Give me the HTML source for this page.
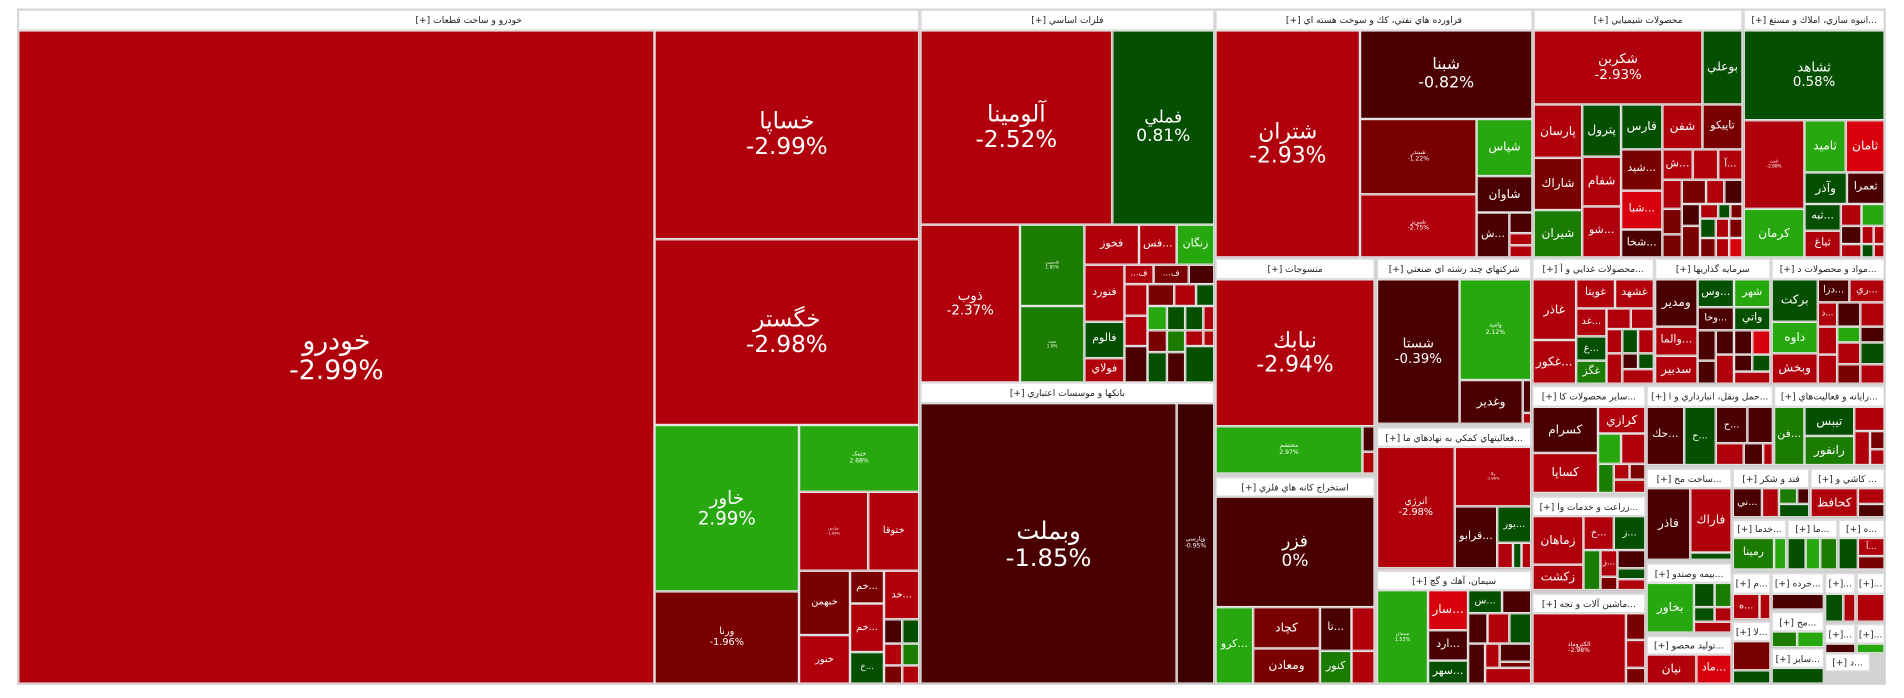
<!DOCTYPE html>
<html><head><meta charset="utf-8">
<style>
html,body{margin:0;padding:0;background:#fff;width:1904px;height:698px;overflow:hidden}
#stage{position:absolute;left:0;top:0;width:1568px;height:575px;transform:scale(1.21429);transform-origin:0 0;}
#frame{position:absolute;left:14px;top:7px;width:1539px;height:557px;background:#d2d2d2}
.t{position:absolute;box-sizing:border-box;border:0.6px solid #e4e4e4;display:flex;flex-direction:column;align-items:center;justify-content:center;color:#fff;font-family:"DejaVu Sans","Liberation Sans",sans-serif;line-height:1.1;overflow:hidden;text-align:center;white-space:nowrap}
.h{position:absolute;box-sizing:border-box;background:#fff;border:0.6px solid #dcdcdc;color:#222;font-family:"DejaVu Sans","Liberation Sans",sans-serif;font-size:7.5px;display:flex;align-items:center;justify-content:center;overflow:hidden;white-space:nowrap;direction:rtl}
</style></head>
<body>
<div id="stage">
<div id="frame"></div>
</div>
<script>
const R='#b0000b',DR='#7a0000',M='#4a0000',M2='#3c0000',BR='#d9000d',DG='#054f00',G='#1a7c00',BG='#26a80e';
const headers=[
[15,8,757,25,'خودرو و ساخت قطعات [+]'],
[758,8,1000,25,'فلزات اساسي [+]'],
[758,315,1000,332,'بانكها و موسسات اعتباري [+]'],
[1001,8,1262,25,'فراورده هاي نفتي، كك و سوخت هسته اي [+]'],
[1263,8,1435,25,'محصولات شيميايي [+]'],
[1436,8,1552,25,'...انبوه سازي، املاك و مستغ [+]'],
[1001,213,1132,230,'منسوجات [+]'],
[1001,393,1132,409,'استخراج كانه هاي فلزي [+]'],
[1134,213,1261,230,'شركتهاي چند رشته اي صنعتي [+]'],
[1134,352,1261,368,'...فعاليتهاي كمكي به نهادهاي ما [+]'],
[1134,470,1261,486,'سيمان، آهك و گچ [+]'],
[1262,213,1362,230,'...محصولات غذايي و آ [+]'],
[1363,213,1458,230,'سرمايه گذاريها [+]'],
[1459,213,1552,230,'...مواد و محصولات د [+]'],
[1262,318,1355,335,'...ساير محصولات كا [+]'],
[1356,318,1460,335,'...حمل ونقل، انبارداري و ا [+]'],
[1461,318,1552,335,'...رايانه و فعاليت‌هاي [+]'],
[1262,409,1355,425,'...زراعت و خدمات وا [+]'],
[1262,489,1355,505,'...ماشين آلات و تجه [+]'],
[1356,386,1426,402,'...ساخت مح [+]'],
[1427,386,1490,402,'قند و شكر [+]'],
[1491,386,1552,402,'... كاشي و [+]'],
[1356,464,1426,480,'...بيمه وصندو [+]'],
[1356,524,1426,539,'...توليد محصو [+]'],
[1427,428,1471,443,'...خدما [+]'],
[1472,428,1513,443,'...ما [+]'],
[1514,428,1552,443,'...ه [+]'],
[1427,472,1458,489,'...م [+]'],
[1459,472,1502,489,'...خرده [+]'],
[1503,472,1528,489,'...[+]'],
[1529,472,1552,489,'...[+]'],
[1427,512,1458,528,'...لا [+]'],
[1459,504,1502,520,'...مح [+]'],
[1459,534,1502,550,'...ساير [+]'],
[1503,514,1528,530,'...[+]'],
[1529,514,1552,530,'...[+]'],
[1503,538,1540,553,'...د [+]']
];
const tiles=[
[15,25,539,563,R,'خودرو','-2.99%',22],
[539,25,757,197,R,'خساپا','-2.99%',19],
[539,197,757,350,R,'خگستر','-2.98%',19],
[539,350,658,487,BG,'خاور','2.99%',15],
[658,350,757,405,BG,'ختمک','2.68%',5],
[658,405,715,470,R,'خپارس','-1.99%',3],
[715,405,757,470,R,'ختوقا','',8],
[539,487,658,563,DR,'ورنا','-1.96%',8],
[658,470,700,523,DR,'خبهمن','',8],
[658,523,700,563,R,'خنور','',8],
[700,470,728,497,DR,'خم...','',8],
[728,470,757,510,R,'خد...','',8],
[700,497,728,537,R,'خم...','',8],
[700,537,728,563,DG,'خ...','',7],
[728,510,743,530,M],[743,510,757,530,DG],[728,530,743,548,R],[743,530,757,548,G],[728,548,743,563,DR],[743,548,757,563,R],
[758,25,916,185,R,'آلومينا','-2.52%',19],
[916,25,1000,185,DG,'فملي','0.81%',14],
[758,185,840,315,R,'ذوب','-2.37%',11],
[840,185,893,252,G,'فاسمين','1.85%',3.5],
[840,252,893,315,G,'سپيد','1.6%',3.5],
[893,185,938,218,R,'فخوز','',9],
[938,185,969,218,R,'فس...','',9],
[969,185,1000,218,BG,'زنگان','',9],
[893,218,926,265,R,'فنورد','',9],
[893,265,926,295,DG,'فالوم','',9],
[893,295,926,315,R,'فولاي','',9],
[926,218,950,234,R,'...ف','',7],[950,218,979,234,DR,'...ف','',7],[979,218,1000,234,M],
[926,234,945,260,R],[945,234,967,252,DR],[967,234,985,252,R],[985,234,1000,252,DG],
[926,260,945,285,R],[945,252,961,272,BG],[961,252,976,272,DG],[976,252,991,272,DG],[991,252,1000,272,R],
[926,285,945,315,M],[945,272,961,290,DR],[961,272,976,290,G],[976,272,991,285,R],[991,272,1000,285,R],
[945,290,961,315,DG],[961,290,976,315,M],[976,285,1000,315,DG],
[758,332,969,563,M,'وبملت','-1.85%',20],
[969,332,1000,563,M2,'وپارسي','-0.95%',5],
[1001,25,1120,212,R,'شتران','-2.93%',18],
[1120,25,1262,98,M,'شبنا','-0.82%',13],
[1120,98,1216,160,DR,'شبندر','-1.22%',5],
[1120,160,1216,212,R,'شبريز','-2.75%',5],
[1216,98,1262,145,BG,'شپاس','',10],
[1216,145,1262,175,M,'شاوان','',10],
[1216,175,1243,212,M,'ش...','',9],
[1243,175,1262,192,M],[1243,192,1262,202,R],[1243,202,1262,212,R],
[1263,25,1402,86,R,'شكربن','-2.93%',11],
[1402,25,1435,86,DG,'بوعلي','',10],
[1263,86,1303,130,R,'پارسان','',10],
[1303,86,1335,129,DG,'پترول','',10],
[1335,86,1369,123,DG,'فارس','',10],
[1369,86,1402,123,R,'شفن','',10],
[1402,86,1435,123,DR,'تاپيكو','',9],
[1263,130,1303,173,DR,'شاراك','',10],
[1263,173,1303,212,G,'شيران','',10],
[1303,129,1335,170,R,'شفام','',10],
[1303,170,1335,212,R,'شو...','',9],
[1335,123,1369,157,DR,'شيد...','',9],
[1335,157,1369,189,BR,'شبا...','',9],
[1335,189,1369,212,M,'شخا...','',9],
[1369,123,1394,148,R,'ش...','',9],[1394,123,1415,148,R],[1415,123,1435,148,R,'آ...','',8],
[1369,148,1385,172,R],[1385,148,1405,168,DR],[1405,148,1420,168,R],[1420,148,1435,168,M],
[1369,172,1385,193,DR],[1385,168,1400,186,M],[1400,168,1415,180,R],[1415,168,1425,180,DG],[1425,168,1435,180,DR],
[1369,193,1385,212,DR],[1385,186,1400,212,DR],[1400,180,1413,196,DG],[1413,180,1424,196,R],[1424,180,1435,196,DR],[1400,196,1413,212,DR],[1413,196,1424,212,R],[1424,196,1435,212,BR],
[1436,25,1552,99,DG,'ثشاهد','0.58%',11],
[1436,99,1486,172,R,'ثامت','-2.88%',3.5],
[1436,172,1486,212,BG,'كرمان','',10],
[1486,99,1520,142,BG,'ثاميد','',10],
[1520,99,1552,142,BR,'ثامان','',10],
[1486,142,1521,168,DG,'وآذر','',10],
[1521,142,1552,168,M,'ثعمرا','',9],
[1486,168,1516,190,DG,'ثبه...','',9],
[1486,190,1516,212,R,'ثباغ','',9],
[1516,168,1533,186,R],[1533,168,1552,186,BG],[1516,186,1533,201,M],[1533,186,1543,201,R],[1543,186,1552,201,R],[1516,201,1533,212,R],[1533,201,1543,212,DG],[1543,201,1552,212,R],
[1001,230,1132,351,R,'نبابك','-2.94%',18],
[1001,351,1122,390,BG,'محتشم','2.97%',5],[1122,351,1132,372,M],[1122,372,1132,390,R],
[1001,409,1132,500,M,'فزر','0%',14],
[1001,500,1032,563,BG,'كرو...','',9],[1032,500,1087,534,DR,'كچاد','',10],[1032,534,1087,563,DR,'ومعادن','',10],[1087,500,1113,536,M,'تا...','',9],[1113,500,1132,536,R],[1087,536,1113,563,G,'كنور','',9],[1113,536,1132,563,R],
[1134,230,1202,349,M,'شستا','-0.39%',11],[1202,230,1261,313,BG,'واميد','2.12%',5],[1202,313,1254,349,M,'وغدير','',10],[1254,313,1261,340,M],[1254,340,1261,349,R],
[1134,368,1198,468,R,'انرژي','-2.98%',8],[1198,368,1261,417,R,'وكا','-1.98%',3],[1198,417,1233,468,M,'قرابو...','',9],[1233,417,1261,447,DG,'بور...','',8],[1233,447,1246,468,R],[1246,447,1253,468,DG],[1253,447,1261,468,R],
[1134,486,1176,563,BG,'سيمان','1.53%',4],[1176,486,1209,519,BR,'سار...','',10],[1176,519,1209,544,M,'ارد...','',9],[1176,544,1209,563,DG,'سهر...','',9],[1209,486,1237,505,DG,'س...','',8],[1237,486,1261,505,M],[1209,505,1225,530,M],[1225,505,1243,530,R],[1243,505,1261,530,DG],[1209,530,1223,563,M],[1223,530,1235,550,R],[1235,530,1261,545,M],[1223,550,1261,563,R],[1235,545,1261,550,DR],
[1262,230,1298,280,R,'غاذر','',10],[1262,280,1298,316,R,'غكور...','',10],[1298,230,1330,254,R,'غويتا','',9],[1330,230,1362,254,R,'غشهد','',9],[1298,254,1323,277,R,'غد...','',8],[1323,254,1343,271,R],[1343,254,1362,271,R],[1298,277,1323,297,DG,'غ...','',8],[1298,297,1323,316,G,'غگز','',9],[1323,271,1336,291,R],[1336,271,1349,291,DG],[1349,271,1362,291,R],[1323,291,1336,316,R],[1336,291,1349,304,M],[1349,291,1362,304,DG],[1336,304,1362,316,R],
[1363,230,1398,269,M,'ومدير','',10],[1363,269,1398,293,R,'والما...','',9],[1363,293,1398,316,R,'سدبير','',10],[1398,230,1428,253,DG,'وس...','',9],[1428,230,1458,253,BG,'شهر','',9],[1398,253,1428,272,M,'وخا...','',8],[1428,253,1458,272,DG,'واتي','',9],[1398,272,1413,297,M],[1413,272,1428,292,M],[1428,272,1443,292,M],[1443,272,1458,292,BR],[1398,297,1413,316,M],[1413,292,1428,316,R],[1428,292,1443,306,M],[1443,292,1458,306,DG],[1428,306,1458,316,R],
[1459,230,1497,265,DG,'بركت','',10],[1459,265,1497,291,BG,'داوه','',10],[1459,291,1497,316,R,'وبخش','',10],[1497,230,1523,249,M,'دزا...','',8],[1523,230,1552,249,R,'ري...','',8],[1497,249,1513,269,R,'د...','',7],[1513,249,1532,269,M],[1532,249,1552,269,R],[1497,269,1513,292,R],[1513,269,1532,282,BG],[1532,269,1552,282,M],[1513,282,1532,300,R],[1532,282,1552,300,DG],[1497,292,1513,316,R],[1513,300,1532,316,DR],[1532,300,1552,316,R],
[1262,335,1316,373,M,'كسرام','',10],[1262,373,1316,406,R,'كساپا','',10],[1316,335,1355,357,R,'كرازي','',10],[1316,357,1335,382,BG],[1335,357,1355,382,R],[1316,382,1329,406,G],[1329,382,1342,395,R],[1342,382,1355,395,DR],[1329,395,1355,406,R],
[1356,335,1387,383,M,'حك...','',9],[1387,335,1413,383,DG,'ح...','',8],[1413,335,1439,365,M,'ح...','',8],[1439,335,1460,365,M],[1413,365,1436,383,R],[1436,365,1452,383,M],[1452,365,1460,383,R],
[1461,335,1486,383,G,'فن...','',9],[1486,335,1527,359,DG,'تيبس','',10],[1486,359,1527,383,G,'رانفور','',10],[1527,335,1552,355,R],[1527,355,1540,383,R],[1540,355,1552,370,DR],[1540,370,1552,383,R],
[1262,425,1304,465,R,'زماهان','',10],[1262,465,1304,486,R,'زكشت','',10],[1304,425,1329,453,R,'خ...','',8],[1329,425,1355,453,DG,'ز...','',8],[1304,453,1318,486,G],[1318,453,1332,475,R,'ز...','',7],[1332,453,1355,468,M],[1332,468,1355,477,DG],[1318,475,1332,486,DR],[1332,477,1355,486,R],
[1262,505,1339,563,R,'الكتروماد','-2.98%',5],[1339,505,1355,527,DR],[1339,527,1355,550,R],[1339,550,1355,563,DR],
[1356,402,1392,461,M,'فاذر','',10],[1392,402,1426,455,R,'فاراك','',10],[1392,455,1426,461,DG],
[1427,402,1451,426,M,'ني...','',8],[1451,402,1465,426,R],[1465,402,1480,415,G],[1480,402,1490,415,M],[1465,415,1490,426,DG],
[1491,402,1530,426,R,'كحافظ','',10],[1530,402,1552,415,R],[1530,415,1552,426,M],
[1427,443,1461,469,G,'رمينا','',9],[1461,443,1471,469,BG],
[1472,443,1487,469,DG],[1487,443,1499,469,BG],[1499,443,1513,469,G],
[1514,443,1530,469,DG],[1530,443,1552,458,R,'آ...','',7],[1530,458,1552,469,DR],
[1356,480,1395,521,BG,'بخاور','',10],[1395,480,1412,500,DG],[1412,480,1426,500,G],[1395,500,1412,512,DG],[1412,500,1426,512,R],[1395,512,1426,521,R],
[1356,539,1397,563,R,'نيان','',10],[1397,539,1426,563,BR,'ماد...','',9],
[1427,489,1449,510,R,'ه...','',8],[1449,489,1458,510,R],
[1459,489,1502,502,M],
[1503,489,1518,512,DG],[1518,489,1528,512,R],[1529,489,1552,512,R],
[1427,528,1458,552,DR],[1427,552,1458,563,DG],
[1459,520,1480,533,G],[1480,520,1502,533,BG],
[1459,550,1502,563,DG],
[1503,530,1528,538,M],[1529,530,1552,538,BG]
];
const stage=document.getElementById('stage');
tiles.forEach(function(t){
  const d=document.createElement('div');
  d.className='t';
  d.style.left=t[0]+'px';d.style.top=t[1]+'px';
  d.style.width=(t[2]-t[0])+'px';d.style.height=(t[3]-t[1])+'px';
  d.style.background=t[4];
  if(t[5]){
    d.style.fontSize=t[7]+'px';
    d.innerHTML='<span>'+t[5]+'</span>'+(t[6]?'<span dir="ltr">'+t[6]+'</span>':'');
  }
  
  
  stage.appendChild(d);
});
headers.forEach(function(h){
  const d=document.createElement('div');
  d.className='h';
  d.style.left=h[0]+'px';d.style.top=h[1]+'px';
  d.style.width=(h[2]-h[0])+'px';d.style.height=(h[3]-h[1])+'px';
  d.textContent=h[4];
  
  
  stage.appendChild(d);
});
</script>
</body></html>
